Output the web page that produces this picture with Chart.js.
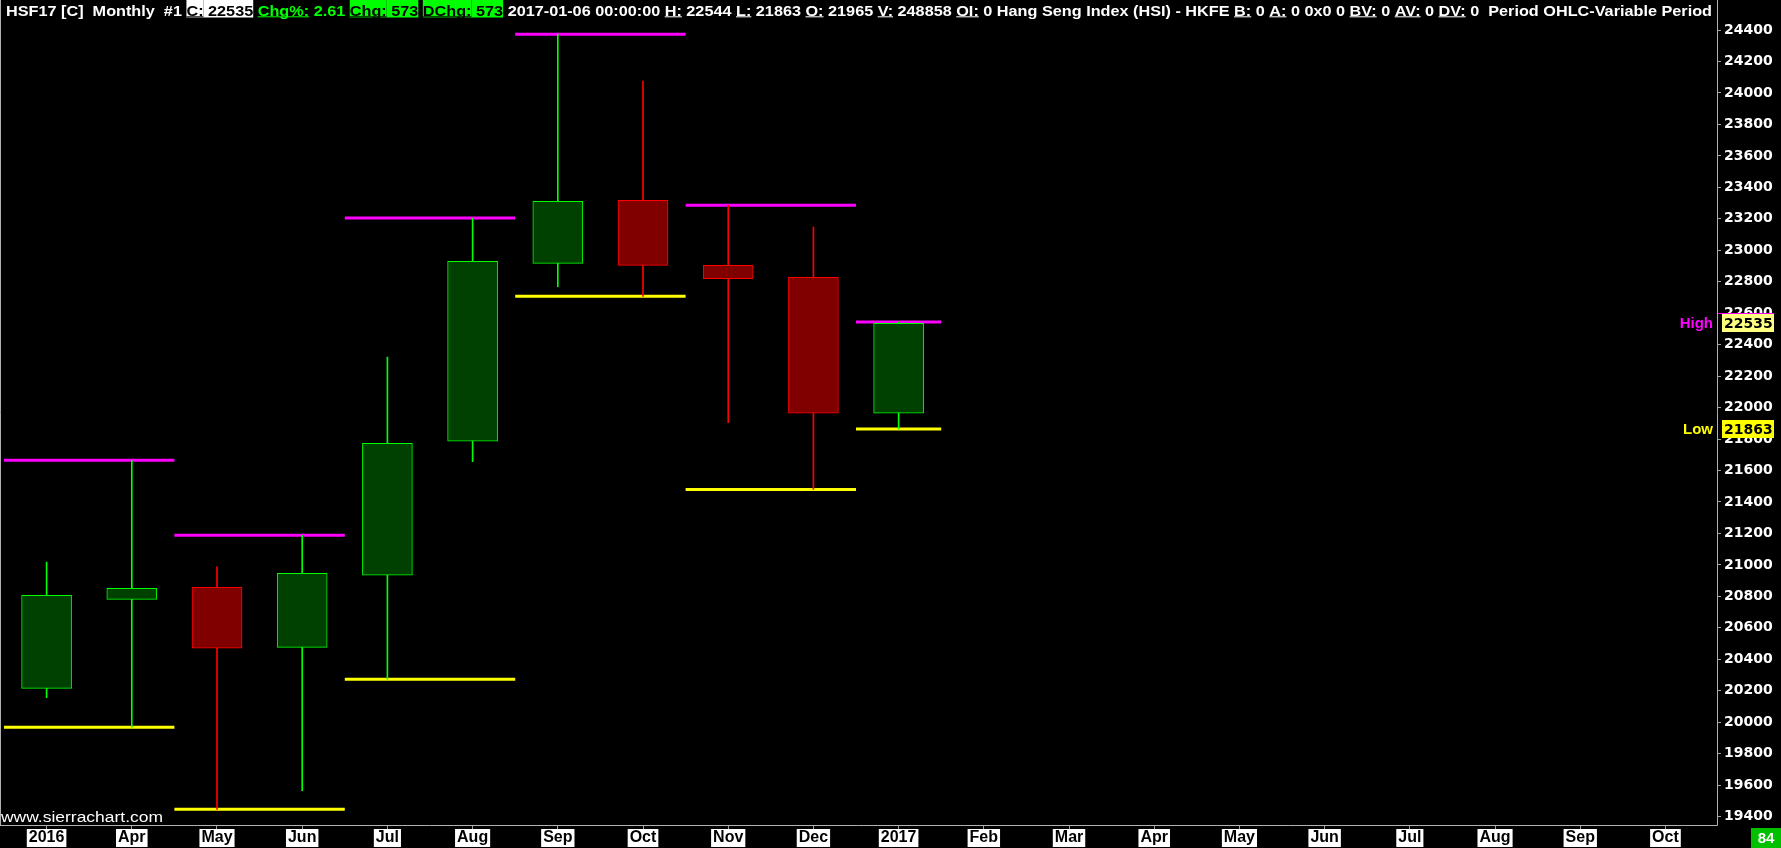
<!DOCTYPE html>
<html>
<head>
<meta charset="utf-8">
<script src="https://cdn.jsdelivr.net/npm/chart.js@4.4.0/dist/chart.umd.min.js"></script>
<style>
  html, body { margin: 0; padding: 0; background: #000; }
  #wrap { width: 1781px; height: 848px; position: relative; }
</style>
</head>
<body>
<div id="wrap"><canvas id="hsiChart"></canvas></div>
<script>
// monthly bars, HSF17
const monthLabels = ['2016', 'Apr', 'May', 'Jun', 'Jul', 'Aug', 'Sep', 'Oct', 'Nov', 'Dec',
                     '2017', 'Feb', 'Mar', 'Apr', 'May', 'Jun', 'Jul', 'Aug', 'Sep', 'Oct'];
const opens  = [20215, 20781, 20857, 20476, 20934, 21786, 22917, 23317, 22904, 22828, 21965];
const highs  = [21018, 21665, 20987, 21188, 22321, 23205, 24373, 24076, 23286, 23148, 22544];
const lows   = [20156, 19968, 19446, 19565, 20273, 21656, 22768, 22707, 21904, 21479, 21863];
const closes = [20807, 20851, 20470, 20946, 21773, 22930, 23311, 22904, 22819, 21964, 22535];

// two-bar period high / low lines
const periodStart = [0, 2, 4, 6, 8, 10];
const periodEnd   = [1, 3, 5, 7, 9, 10];
const periodHigh  = [21665, 21188, 23205, 24373, 23286, 22544];
const periodLow   = [19968, 19446, 20273, 22707, 21479, 21863];

const yTicks = [19400, 19600, 19800, 20000, 20200, 20400, 20600, 20800, 21000, 21200, 21400,
                21600, 21800, 22000, 22200, 22400, 22600, 22800, 23000, 23200, 23400, 23600,
                23800, 24000, 24200, 24400];

const headerRuns = [
  ['HSF17 [C]  Monthly  #1 ', '#ffffff'],
  ['C:', '#000000', '#ffffff', true], [' 22535', '#000000', '#ffffff'],
  [' ', '#ffffff'],
  ['Chg%:', '#00ff00', null, true], [' 2.61', '#00ff00'],
  [' ', '#ffffff'],
  ['Chg:', '#000000', '#00ff00', true], [' 573', '#000000', '#00ff00'],
  [' ', '#ffffff'],
  ['DChg:', '#000000', '#00ff00', true], [' 573', '#000000', '#00ff00'],
  [' 2017-01-06 00:00:00 ', '#ffffff'],
  ['H:', '#ffffff', null, true], [' 22544 ', '#ffffff'],
  ['L:', '#ffffff', null, true], [' 21863 ', '#ffffff'],
  ['O:', '#ffffff', null, true], [' 21965 ', '#ffffff'],
  ['V:', '#ffffff', null, true], [' 248858 ', '#ffffff'],
  ['OI:', '#ffffff', null, true], [' 0 Hang Seng Index (HSI) - HKFE ', '#ffffff'],
  ['B:', '#ffffff', null, true], [' 0 ', '#ffffff'],
  ['A:', '#ffffff', null, true], [' 0 0x0 0 ', '#ffffff'],
  ['BV:', '#ffffff', null, true], [' 0 ', '#ffffff'],
  ['AV:', '#ffffff', null, true], [' 0 ', '#ffffff'],
  ['DV:', '#ffffff', null, true], [' 0  Period OHLC-Variable Period', '#ffffff']
];

const isUp = closes.map((c, i) => c >= opens[i]);

function periodLine(values) {
  const pts = [];
  periodStart.forEach((s, p) => {
    pts.push({ x: s - 0.5, y: values[p] });
    pts.push({ x: periodEnd[p] + 0.5, y: values[p] });
    pts.push({ x: periodEnd[p] + 0.5, y: null });
  });
  return pts;
}

const AXIS_FONT = 'bold 14px "DejaVu Sans", Verdana, sans-serif';

const sierraExtras = {
  id: 'sierraExtras',
  beforeDraw(chart) {
    const ctx = chart.ctx;
    ctx.save();
    ctx.fillStyle = '#000';
    ctx.fillRect(0, 0, chart.width, chart.height);
    ctx.restore();
  },
  afterDraw(chart) {
    const ctx = chart.ctx;
    const area = chart.chartArea;
    const y = chart.scales.y;
    ctx.save();

    // frame
    ctx.strokeStyle = '#b0b0b0';
    ctx.lineWidth = 1;
    ctx.beginPath();
    ctx.moveTo(0.5, 0); ctx.lineTo(0.5, area.bottom + 0.5);
    ctx.moveTo(area.right + 0.5, 0); ctx.lineTo(area.right + 0.5, area.bottom + 0.5);
    ctx.moveTo(0, area.bottom + 0.5); ctx.lineTo(area.right + 0.5, area.bottom + 0.5);
    ctx.stroke();

    // header line
    ctx.font = 'bold 15px "Liberation Sans", Arial, sans-serif';
    ctx.textBaseline = 'alphabetic';
    ctx.textAlign = 'left';
    const total = headerRuns.reduce((w, r) => w + ctx.measureText(r[0]).width, 0);
    ctx.save();
    ctx.translate(6, 0);
    ctx.scale((1712 - 6) / total, 1);
    let x = 0;
    headerRuns.forEach(([t, fg, bg, ul]) => {
      const w = ctx.measureText(t).width;
      if (bg) { ctx.fillStyle = bg; ctx.fillRect(x, 0, w, 17.5); }
      ctx.fillStyle = fg;
      ctx.fillText(t, x, 15.5);
      if (ul) ctx.fillRect(x, 16.3, w, 1);
      x += w;
    });
    ctx.restore();

    // watermark
    ctx.font = '14px "Liberation Sans", Arial, sans-serif';
    const wm = 'www.sierrachart.com';
    ctx.save();
    ctx.translate(1, 0);
    ctx.scale(162 / ctx.measureText(wm).width, 1);
    ctx.fillStyle = '#ffffff';
    ctx.fillText(wm, 0, 822);
    ctx.restore();

    // High / Low markers on the price scale
    const last = closes.length - 1;
    const markers = [
      { name: 'High', val: closes[last], color: '#ff00ff', box: '#ffff80' },
      { name: 'Low', val: lows[last], color: '#ffff00', box: '#ffff00' }
    ];
    markers.forEach(m => {
      const py = Math.round(y.getPixelForValue(m.val));
      ctx.fillStyle = m.box;
      ctx.fillRect(area.right + 5, py - 9, 52, 18);
      if (m.name === 'High') {
        ctx.fillStyle = m.color;
        ctx.fillRect(area.right + 1, py - 10, 56, 1);
      }
      ctx.font = AXIS_FONT;
      ctx.textBaseline = 'middle';
      ctx.textAlign = 'left';
      ctx.fillStyle = '#000';
      ctx.fillText(String(m.val), area.right + 7, py + 1);
      ctx.font = 'bold 15px "Liberation Sans", Arial, sans-serif';
      ctx.textAlign = 'right';
      ctx.fillStyle = m.color;
      ctx.fillText(m.name, area.right - 4, py + 1);
    });

    // bar counter
    ctx.fillStyle = '#00c000';
    ctx.fillRect(1751, 828, 30, 20);
    ctx.fillStyle = '#ffffff';
    ctx.font = 'bold 15px "Liberation Sans", Arial, sans-serif';
    ctx.textAlign = 'center';
    ctx.textBaseline = 'middle';
    ctx.fillText('84', 1766, 839);

    ctx.restore();
  }
};

new Chart(document.getElementById('hsiChart'), {
  type: 'bar',
  data: {
    datasets: [
      {
        type: 'bar',
        label: 'body',
        data: opens.map((o, i) => ({ x: i, y: [o, closes[i]] })),
        backgroundColor: isUp.map(u => u ? '#004000' : '#800000'),
        borderColor: isUp.map(u => u ? '#00ff00' : '#ff0000'),
        borderWidth: 1,
        borderSkipped: false,
        barThickness: 50,
        grouped: false,
        order: 0
      },
      {
        type: 'bar',
        label: 'wick',
        data: lows.map((l, i) => ({ x: i, y: [l, highs[i]] })),
        backgroundColor: isUp.map(u => u ? '#00ff00' : '#ff0000'),
        borderWidth: 0,
        barThickness: 1,
        grouped: false,
        order: 1
      },
      {
        type: 'line',
        label: 'period high',
        data: periodLine(periodHigh),
        borderColor: '#ff00ff',
        borderWidth: 3,
        pointRadius: 0,
        spanGaps: false,
        order: 2
      },
      {
        type: 'line',
        label: 'period low',
        data: periodLine(periodLow),
        borderColor: '#ffff00',
        borderWidth: 3,
        pointRadius: 0,
        spanGaps: false,
        order: 2
      }
    ]
  },
  options: {
    responsive: true,
    maintainAspectRatio: false,
    animation: false,
    devicePixelRatio: 1,
    layout: { padding: { top: 20, left: 1, right: 0, bottom: 0 } },
    plugins: { legend: { display: false }, tooltip: { enabled: false } },
    scales: {
      x: {
        type: 'linear',
        min: -0.535,
        max: 19.605,
        offset: false,
        grid: { drawOnChartArea: false, offset: false, tickLength: 4, color: '#a0a0a0' },
        border: { display: false },
        afterBuildTicks: s => { s.ticks = monthLabels.map((_, i) => ({ value: i })); },
        afterFit: s => { s.height = 23; },
        ticks: {
          autoSkip: false,
          maxRotation: 0,
          padding: 1,
          color: '#000000',
          font: { family: '"Liberation Sans", Arial, sans-serif', size: 16, weight: 'bold', lineHeight: 1 },
          showLabelBackdrop: true,
          backdropColor: '#ffffff',
          backdropPadding: { top: 1, bottom: 1, left: 2, right: 2 },
          callback: v => monthLabels[v]
        }
      },
      y: {
        position: 'right',
        min: 19346.6,
        max: 24463.6,
        grid: { drawOnChartArea: false, tickLength: 4, color: '#a0a0a0' },
        border: { display: false },
        afterBuildTicks: s => { s.ticks = yTicks.map(v => ({ value: v })); },
        afterFit: s => { s.width = 64; },
        ticks: {
          padding: 3,
          color: '#ffffff',
          font: { family: '"DejaVu Sans", Verdana, sans-serif', size: 14, weight: 'bold' },
          callback: v => String(v)
        }
      }
    }
  },
  plugins: [sierraExtras]
});
</script>
</body>
</html>
